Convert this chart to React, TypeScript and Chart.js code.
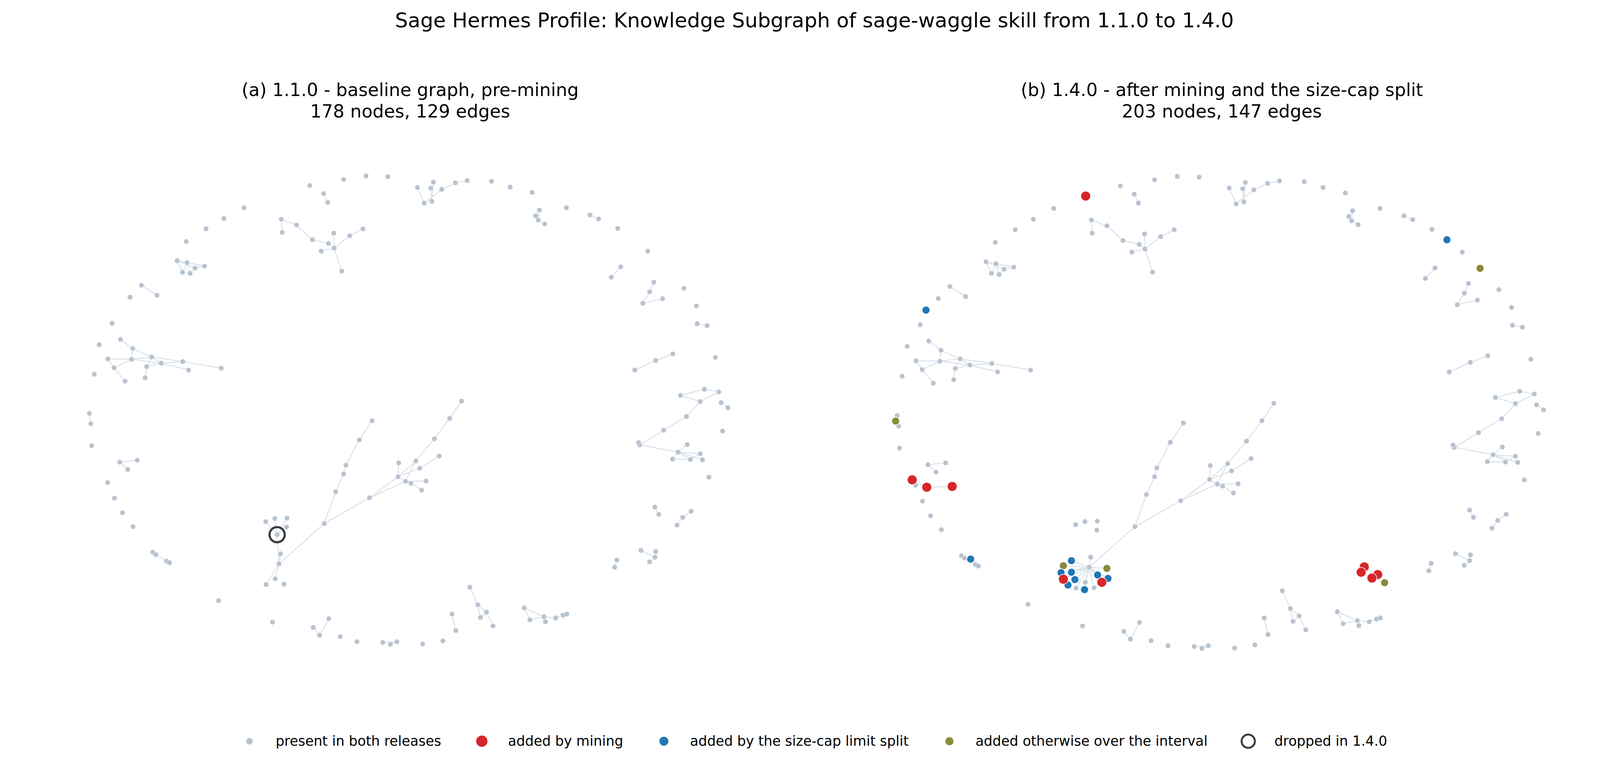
import { useEffect, useRef } from "react";
import { Chart, registerables } from "chart.js";
Chart.register(...registerables);

type GraphNode = [string, number, number];
type GraphEdge = [string, string];

// layout positions of the nodes present in both releases
const sharedNodes: GraphNode[] = [
  ["n1", 991, 455], ["n2", 934, 453], ["n3", 875, 462], ["n4", 786, 478], ["n5", 822, 499],
  ["n6", 833, 522], ["n7", 613, 536], ["n8", 560, 564], ["n9", 513, 591], ["n10", 461, 624],
  ["a1", 437, 674], ["a2", 463, 679], ["a3", 484, 693], ["a4", 509, 688], ["a5", 451, 704], ["a6", 471, 707],
  ["n11", 343, 738], ["n12", 384, 764], ["n13", 313, 769],
  ["b1", 711, 566], ["b2", 751, 581], ["b3", 713, 600], ["b4", 793, 619], ["b5", 835, 629], ["b6", 849, 602],
  ["b7", 891, 609], ["b8", 926, 591], ["b9", 850, 641], ["b10", 816, 649], ["b11", 870, 701],
  ["n14", 266, 837],
  ["c1", 288, 879], ["c2", 232, 893], ["c3", 320, 903], ["c4", 255, 930], ["c5", 317, 931], ["c6", 370, 925],
  ["c7", 395, 941], ["c8", 452, 937], ["c9", 553, 954], ["c10", 357, 950], ["c11", 271, 953], ["c12", 467, 959],
  ["c13", 219, 970], ["c14", 353, 979], ["c15", 300, 988],
  ["p1", 206, 1072], ["p2", 210, 1099], ["p3", 212, 1156],
  ["q1", 286, 1199], ["q2", 332, 1194], ["q3", 307, 1218],
  ["p4", 254, 1252], ["p5", 272, 1293], ["p6", 293, 1331], ["p7", 321, 1367],
  ["r1", 373, 1434], ["r2", 381, 1440], ["r3", 409, 1457], ["r4", 417, 1461],
  ["s1", 670, 1354], ["s2", 694, 1346], ["s3", 726, 1345], ["s4", 725, 1368], ["s5", 709, 1438],
  ["s6", 705, 1464], ["s7", 695, 1503], ["s8", 671, 1518], ["s9", 718, 1517],
  ["p8", 546, 1560], ["p9", 688, 1616],
  ["u1", 836, 1607], ["u2", 795, 1630], ["u3", 812, 1650],
  ["p10", 866, 1654], ["p11", 910, 1667],
  ["v1", 978, 1669], ["v2", 998, 1674], ["v3", 1015, 1667],
  ["T0", 824, 1359], ["T1", 854, 1276], ["T2", 875, 1230], ["T3", 881, 1207], ["T4", 916, 1141],
  ["T5", 950, 1091], ["T6", 943, 1292], ["T7", 1018, 1237], ["T8", 1020, 1201], ["T9", 1038, 1249],
  ["tt", 1185, 1040], ["t1", 1154, 1085], ["t2", 1114, 1138], ["t3", 1065, 1196], ["t4", 1126, 1183],
  ["t5", 1075, 1215], ["t6", 1092, 1248], ["t7", 1052, 1254], ["t8", 1080, 1272],
  ["d1", 1069, 483], ["d2", 1111, 469], ["d3", 1104, 485], ["d4", 1133, 488], ["d5", 1169, 471],
  ["d6", 1200, 465], ["d7", 1087, 524], ["d8", 1107, 519],
  ["d9", 1264, 467], ["d10", 1313, 482], ["d11", 1371, 496],
  ["e1", 1390, 542], ["e2", 1380, 557], ["e3", 1387, 568], ["e4", 1404, 578],
  ["d12", 1461, 536], ["f1", 1523, 555], ["f2", 1546, 565], ["d13", 1596, 590], ["d14", 1675, 649],
  ["g1", 1604, 690], ["g2", 1579, 717],
  ["h1", 1691, 730], ["h2", 1680, 755], ["h3", 1662, 785], ["h4", 1714, 773],
  ["d15", 1770, 746], ["d16", 1803, 792],
  ["i1", 1805, 838], ["i2", 1831, 843],
  ["j1", 1741, 917], ["j2", 1696, 934], ["j3", 1641, 959],
  ["d17", 1853, 926],
  ["k1", 1824, 1009], ["k2", 1862, 1016], ["k3", 1761, 1025], ["k4", 1813, 1041], ["k5", 1868, 1044], ["k6", 1886, 1057],
  ["w1", 1777, 1080], ["w2", 1717, 1116], ["w3", 1654, 1154], ["w3b", 1651, 1148], ["w4", 1872, 1118],
  ["x1", 1779, 1153], ["x2", 1755, 1173], ["x3", 1813, 1177], ["x4", 1740, 1191], ["x5", 1787, 1192],
  ["x6", 1819, 1193], ["x7", 1836, 1238],
  ["y1", 1694, 1316], ["y2", 1704, 1335], ["y3", 1789, 1327], ["y4", 1767, 1343], ["y5", 1752, 1363],
  ["z1", 1657, 1429], ["z2", 1696, 1432], ["z3", 1694, 1447], ["z4", 1680, 1459], ["z5", 1594, 1454], ["z6", 1588, 1473],
  ["m1", 1207, 1525], ["m2", 1228, 1571], ["m3", 1251, 1590], ["m4", 1235, 1604], ["m5", 1268, 1626],
  ["m6", 1160, 1595], ["m7", 1170, 1638], ["m8", 1136, 1665], ["m9", 1083, 1673],
  ["o1", 1350, 1579], ["o2", 1402, 1602], ["o3", 1365, 1610], ["o4", 1406, 1615], ["o5", 1433, 1605],
  ["o6", 1452, 1598], ["o7", 1462, 1595],
];

const droppedNodes: GraphNode[] = [["D", 700, 1388]];

const miningNodes: GraphNode[] = [
  ["M1", 696, 504], ["M2", 245, 1238], ["M3", 283, 1257], ["M4", 349, 1255], ["M5", 638, 1495],
  ["M6", 738, 1503], ["M7", 1420, 1463], ["M8", 1412, 1477], ["M9", 1455, 1483], ["M10", 1440, 1492],
];

const splitNodes: GraphNode[] = [
  ["B1", 1635, 617], ["B2", 281, 799], ["B3", 397, 1443], ["B4", 659, 1447], ["B5", 632, 1478],
  ["B6", 659, 1477], ["B7", 668, 1496], ["B8", 650, 1510], ["B9", 693, 1522], ["B10", 727, 1484], ["B11", 754, 1493],
];

const otherNodes: GraphNode[] = [
  ["O1", 1721, 691], ["O2", 202, 1086], ["O3", 638, 1460], ["O4", 751, 1467], ["O5", 1473, 1504],
];

const stableEdges: GraphEdge[] = [
  ["n5", "n6"],
  ["a1", "a2"], ["a1", "a3"], ["a1", "a5"], ["a2", "a4"], ["a2", "a5"], ["a2", "a6"], ["a3", "a4"], ["a3", "a6"],
  ["n11", "n12"],
  ["b1", "b2"], ["b1", "b3"], ["b2", "b4"], ["b4", "b5"], ["b5", "b9"], ["b9", "b6"], ["b9", "b7"], ["b7", "b8"],
  ["b9", "b10"], ["b9", "b11"],
  ["c1", "c3"], ["c3", "c6"], ["c3", "c5"], ["c4", "c5"], ["c4", "c11"], ["c11", "c5"], ["c11", "c15"], ["c5", "c6"],
  ["c5", "c7"], ["c6", "c8"], ["c6", "c10"], ["c6", "c7"], ["c7", "c8"], ["c7", "c10"], ["c7", "c12"], ["c8", "c9"],
  ["c10", "c14"],
  ["p1", "p2"],
  ["q1", "q2"], ["q1", "q3"],
  ["r1", "r2"], ["r2", "r3"], ["r3", "r4"],
  ["s5", "s6"], ["s6", "s7"], ["s6", "s8"], ["s6", "T0"],
  ["u1", "u3"], ["u2", "u3"],
  ["v1", "v3"], ["v2", "v3"],
  ["T5", "T4"], ["T4", "T3"], ["T3", "T2"], ["T2", "T1"], ["T1", "T0"], ["T0", "T6"], ["T6", "T7"], ["T6", "T9"],
  ["T7", "T8"], ["T7", "T9"],
  ["tt", "t1"], ["t1", "t2"], ["t2", "t3"], ["t3", "T7"], ["t3", "T9"], ["t4", "t5"], ["t5", "T7"], ["T9", "t6"],
  ["t7", "t8"], ["T9", "t7"],
  ["d1", "d7"], ["d7", "d4"], ["d4", "d5"], ["d5", "d6"], ["d2", "d8"], ["d3", "d8"],
  ["e1", "e2"], ["e1", "e3"], ["e3", "e4"],
  ["f1", "f2"], ["g1", "g2"],
  ["h1", "h2"], ["h2", "h3"], ["h3", "h4"],
  ["i1", "i2"],
  ["j1", "j2"], ["j2", "j3"],
  ["k3", "k1"], ["k1", "k2"], ["k3", "k4"], ["k4", "k2"], ["k5", "k6"], ["k4", "w1"],
  ["w1", "w2"], ["w2", "w3"], ["w3", "x2"], ["w3b", "w3"],
  ["x2", "x1"], ["x2", "x3"], ["x2", "x5"], ["x2", "x6"], ["x2", "x4"], ["x4", "x5"], ["x5", "x3"],
  ["y1", "y2"], ["y3", "y4"], ["y4", "y5"],
  ["z1", "z3"], ["z3", "z4"], ["z2", "z3"], ["z5", "z6"],
  ["m1", "m2"], ["m2", "m3"], ["m2", "m4"], ["m3", "m5"], ["m3", "m4"], ["m6", "m7"],
  ["o1", "o2"], ["o1", "o3"], ["o3", "o2"], ["o2", "o5"], ["o5", "o6"], ["o6", "o7"],
];

const droppedEdges: GraphEdge[] = [["D", "s1"], ["D", "s2"], ["D", "s3"], ["D", "s4"], ["D", "s6"]];

const addedEdges: GraphEdge[] = [
  ["s6", "B4"], ["s6", "O3"], ["s6", "B5"], ["s6", "B6"], ["s6", "M5"], ["s6", "B7"], ["s6", "B8"], ["s6", "B9"],
  ["s6", "O4"], ["s6", "B10"], ["s6", "B11"], ["s6", "M6"], ["s6", "s9"],
  ["M2", "M3"], ["M3", "M4"],
  ["M7", "M9"], ["M8", "M10"], ["M10", "O5"], ["M7", "M8"],
  ["O2", "p1"], ["O2", "p2"],
  ["B3", "r2"], ["B3", "r3"],
];

const TITLE = "Sage Hermes Profile: Knowledge Subgraph of sage-waggle skill from 1.1.0 to 1.4.0";
const SUBTITLE_A = ["(a) 1.1.0 - baseline graph, pre-mining", "178 nodes, 129 edges"];
const SUBTITLE_B = ["(b) 1.4.0 - after mining and the size-cap split", "203 nodes, 147 edges"];

const FONT = "'DejaVu Sans', 'Liberation Sans', sans-serif";
const GRAY = "#b7c3d0";
const RED = "#d62728";
const BLUE = "#1f77b4";
const OLIVE = "#8a8a3c";
const EDGE = "#dbe1e9";
const RING = "#3b3b3b";

const lookup = new Map<string, GraphNode>();
[...sharedNodes, ...droppedNodes, ...miningNodes, ...splitNodes, ...otherNodes].forEach((n) => lookup.set(n[0], n));

const PANEL_W = 1860;
const PANEL_H = 1554;
const PANEL_TOP = 206;
const TITLE_SIZE = 46;

const GraphPanel = ({
  title,
  left,
  gray,
  mining,
  split,
  other,
  dropped,
  edges,
}: {
  title: string[];
  left: number;
  gray: GraphNode[];
  mining: GraphNode[];
  split: GraphNode[];
  other: GraphNode[];
  dropped: GraphNode[];
  edges: GraphEdge[];
}) => {
  const canvasRef = useRef<HTMLCanvasElement | null>(null);
  useEffect(() => {
    if (!canvasRef.current) return;
    const pt = (n: GraphNode) => ({ x: n[1], y: n[2] });
    const edgeData: { x: number | null; y: number | null }[] = [];
    edges.forEach(([a, b]) => {
      const p = lookup.get(a);
      const q = lookup.get(b);
      if (!p || !q) return;
      edgeData.push(pt(p), pt(q), { x: null, y: null });
    });
    const nodes = (list: GraphNode[], color: string, radius: number, border: number, order: number) => ({
      data: list.map(pt),
      backgroundColor: color,
      borderColor: "#ffffff",
      borderWidth: border,
      pointRadius: radius,
      pointHoverRadius: radius,
      order,
    });
    // chart area starts right under the two-line subtitle
    const titleBlock = title.length * TITLE_SIZE * 1.2;

    const chart = new Chart(canvasRef.current, {
      type: "scatter",
      data: {
        datasets: [
          {
            data: edgeData as any,
            showLine: true,
            spanGaps: false,
            borderColor: EDGE,
            borderWidth: 2.5,
            pointRadius: 0,
            pointHoverRadius: 0,
            order: 9,
          },
          nodes(gray, GRAY, 6.6, 0.8, 8),
          nodes(other, OLIVE, 10, 1.5, 5),
          nodes(split, BLUE, 10, 1.5, 4),
          nodes(mining, RED, 12.5, 1.5, 3),
          {
            data: dropped.map(pt),
            backgroundColor: "rgba(0,0,0,0)",
            borderColor: RING,
            borderWidth: 5.5,
            pointRadius: 19.5,
            pointHoverRadius: 19.5,
            order: 1,
          },
        ],
      },
      options: {
        responsive: false,
        animation: false,
        events: [],
        layout: { padding: 0 },
        plugins: {
          legend: { display: false },
          tooltip: { enabled: false },
          title: {
            display: true,
            text: title,
            color: "#000000",
            padding: 0,
            font: { family: FONT, size: TITLE_SIZE, weight: "normal", lineHeight: 1.2 },
          },
        },
        scales: {
          x: { type: "linear", display: false, min: 120, max: 120 + PANEL_W },
          y: {
            type: "linear",
            display: false,
            reverse: true,
            min: PANEL_TOP + titleBlock,
            max: PANEL_TOP + PANEL_H,
          },
        },
      },
    });

    return () => {
      chart.destroy();
    };
  }, []);

  return (
    <canvas
      ref={canvasRef}
      width={PANEL_W}
      height={PANEL_H}
      style={{ position: "absolute", left, top: PANEL_TOP, width: PANEL_W, height: PANEL_H }}
    />
  );
};

const legendItems = [
  { label: "present in both releases", size: 17, fill: GRAY, ring: false },
  { label: "added by mining", size: 29, fill: RED, ring: false },
  { label: "added by the size-cap limit split", size: 23, fill: BLUE, ring: false },
  { label: "added otherwise over the interval", size: 21, fill: OLIVE, ring: false },
  { label: "dropped in 1.4.0", size: 39, fill: "transparent", ring: true },
];

export default function App() {
  return (
    <div
      style={{
        position: "absolute",
        left: 0,
        top: 0,
        width: 4170,
        height: 1962,
        background: "#ffffff",
        fontFamily: FONT,
        color: "#000000",
        overflow: "hidden",
      }}
    >
      <div
        style={{
          position: "absolute",
          top: 26,
          left: 0,
          width: "100%",
          textAlign: "center",
          fontSize: 52,
          lineHeight: "52px",
          whiteSpace: "nowrap",
        }}
      >
        {TITLE}
      </div>
      <GraphPanel
        title={SUBTITLE_A}
        left={120}
        gray={[...sharedNodes, ...droppedNodes]}
        mining={[]}
        split={[]}
        other={[]}
        dropped={droppedNodes}
        edges={[...stableEdges, ...droppedEdges]}
      />
      <GraphPanel
        title={SUBTITLE_B}
        left={2198}
        gray={sharedNodes}
        mining={miningNodes}
        split={splitNodes}
        other={otherNodes}
        dropped={[]}
        edges={[...stableEdges, ...addedEdges]}
      />
      <div
        style={{
          position: "absolute",
          top: 1873,
          left: 0,
          width: "100%",
          height: 50,
          display: "flex",
          justifyContent: "center",
          alignItems: "center",
          fontSize: 35,
          lineHeight: "35px",
          whiteSpace: "nowrap",
        }}
      >
        {legendItems.map((item, i) => (
          <div
            key={item.label}
            style={{ display: "flex", alignItems: "center", marginRight: i < legendItems.length - 1 ? 84 : 0 }}
          >
            <div style={{ width: 40, display: "flex", justifyContent: "center", marginRight: 47 }}>
              <span
                style={{
                  display: "inline-block",
                  boxSizing: "border-box",
                  width: item.size,
                  height: item.size,
                  borderRadius: "50%",
                  background: item.fill,
                  border: item.ring ? `5.5px solid ${RING}` : "none",
                }}
              />
            </div>
            <span>{item.label}</span>
          </div>
        ))}
      </div>
    </div>
  );
}
